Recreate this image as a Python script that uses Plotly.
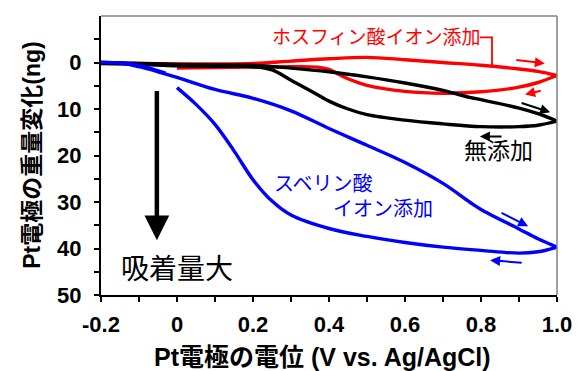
import plotly.graph_objects as go

# ---------------- data ----------------
# 無添加 (no additive): forward (anodic) and backward sweeps
black_fwd_x = [-0.2, -0.1, 0.0, 0.1, 0.2, 0.3, 0.4, 0.5, 0.6, 0.7, 0.77, 0.8, 0.9, 0.95, 1.0]
black_fwd_y = [0.0, 0.2, 0.4, 0.5, 0.6, 1.2, 2.0, 3.1, 4.4, 6.0, 7.5, 8.0, 9.8, 11.0, 12.6]
black_bwd_x = [1.0, 0.95, 0.9, 0.8, 0.7, 0.6, 0.5, 0.45, 0.4, 0.35, 0.3, 0.25, 0.2, 0.1, 0.0, -0.1, -0.2]
black_bwd_y = [12.6, 13.5, 13.8, 13.8, 13.2, 12.4, 11.2, 10.0, 8.3, 6.0, 3.8, 1.6, 0.9, 0.8, 0.7, 0.4, 0.2]

# ホスフィン酸イオン添加 (phosphinate)
red_fwd_x = [-0.2, -0.1, 0.0, 0.1, 0.2, 0.3, 0.4, 0.5, 0.6, 0.7, 0.8, 0.9, 0.95, 1.0]
red_fwd_y = [0.0, 0.2, 0.3, 0.3, 0.2, -0.3, -0.8, -1.1, -0.6, 0.0, 0.6, 1.4, 1.9, 2.8]
red_bwd_x = [1.0, 0.95, 0.9, 0.8, 0.7, 0.6, 0.5, 0.45, 0.42, 0.4, 0.37, 0.3, 0.2, 0.1, 0.0]
red_bwd_y = [2.8, 4.3, 5.3, 6.3, 6.6, 6.2, 4.9, 3.5, 2.3, 1.5, 1.0, 0.9, 1.0, 1.1, 1.2]

# スベリン酸イオン添加 (suberate)
blue_fwd_x = [-0.2, -0.15, -0.1, -0.05, 0.0, 0.1, 0.2, 0.3, 0.4, 0.5, 0.6, 0.7, 0.77, 0.8, 0.9, 0.95, 1.0]
blue_fwd_y = [0.0, 0.1, 0.9, 2.0, 3.2, 5.8, 7.7, 10.4, 14.2, 17.8, 21.5, 26.0, 30.0, 31.6, 35.8, 37.9, 39.7]
blue_bwd_x = [1.0, 0.95, 0.9, 0.8, 0.7, 0.6, 0.5, 0.4, 0.3, 0.25, 0.2, 0.15, 0.1, 0.05, 0.0, None, -0.03, -0.1, -0.15]
blue_bwd_y = [39.7, 40.7, 41.0, 40.4, 39.7, 38.7, 37.4, 35.7, 32.8, 29.8, 25.2, 19.0, 13.3, 9.0, 5.4, None, 2.3, 0.6, 0.1]

x_ticks = [-0.2, 0, 0.2, 0.4, 0.6, 0.8, 1.0]
x_tick_text = ["-0.2", "0", "0.2", "0.4", "0.6", "0.8", "1.0"]
y_ticks = [0, 10, 20, 30, 40, 50]
y_tick_text = ["0", "10", "20", "30", "40", "50"]

RED = "#ff0000"
BLACK = "#000000"
BLUE = "#0000ff"
FONT = "Liberation Sans, Arial, Noto Sans CJK JP, sans-serif"

fig = go.Figure()
for xs, ys, col in [
    (red_fwd_x + red_bwd_x, red_fwd_y + red_bwd_y, RED),
    (black_fwd_x + black_bwd_x, black_fwd_y + black_bwd_y, BLACK),
    (blue_fwd_x + blue_bwd_x, blue_fwd_y + blue_bwd_y, BLUE),
]:
    fig.add_trace(go.Scatter(x=xs, y=ys, mode="lines", line=dict(color=col, width=3.4),
                             line_shape="spline", connectgaps=False, hoverinfo="skip"))

# ---------------- annotations ----------------
def arrow(x0, y0, x1, y1, col, w=2, size=1.0):
    fig.add_annotation(x=x1, y=y1, ax=x0, ay=y0, xref="x", yref="y", axref="x", ayref="y",
                       text="", showarrow=True, arrowhead=2, arrowsize=size,
                       arrowwidth=w, arrowcolor=col)

arrow(0.889, -0.6, 0.968, 0.2, RED)
arrow(0.961, 6.0, 0.916, 6.9, RED)
arrow(0.903, 8.6, 0.982, 10.7, BLACK)
arrow(0.858, 15.9, 0.797, 15.9, BLACK)
arrow(0.850, 32.2, 0.924, 35.2, BLUE)
arrow(0.911, 43.1, 0.824, 42.5, BLUE)
arrow(-0.053, 5.8, -0.053, 38.2, BLACK, w=4.5, size=1.1)

def label(x, y, txt, col, size, anchor="center", weight="normal"):
    fig.add_annotation(x=x, y=y, xref="x", yref="y", text=txt, showarrow=False,
                       xanchor=anchor,
                       font=dict(family=FONT, size=size, color=col, weight=weight))

label(0.524, -5.4, "ホスフィン酸イオン添加", RED, 19)
label(0.845, 19.1, "無添加", BLACK, 23)
label(0.25, 26.2, "スベリン酸", BLUE, 20, anchor="left")
label(0.542, 31.5, "イオン添加", BLUE, 20)
label(0.0, 44.6, "吸着量大", BLACK, 28)

# axis titles
fig.add_annotation(x=-0.153, y=0.5, xref="paper", yref="paper", xanchor="center", yanchor="middle",
                   text="Pt電極の重量変化(ng)", textangle=-90, showarrow=False,
                   font=dict(family=FONT, size=23, color="black", weight="bold"))
fig.add_annotation(x=0.485, y=-0.222, xref="paper", yref="paper", xanchor="center", yanchor="middle",
                   text="Pt電極の電位 (V vs. Ag/AgCl)", showarrow=False,
                   font=dict(family=FONT, size=25, color="black", weight="bold"))

# bracket from red label to the red curve
fig.add_shape(type="path", xref="x", yref="y",
              path="M 0.797 -5.4 L 0.829 -5.4 L 0.829 0.6",
              line=dict(color=RED, width=1.8))

# gray top/right frame
fig.add_shape(type="line", xref="paper", yref="paper", x0=0, y0=1, x1=1, y1=1,
              line=dict(color="#808080", width=1.5))
fig.add_shape(type="line", xref="paper", yref="paper", x0=1, y0=0, x1=1, y1=1,
              line=dict(color="#808080", width=1.5))

fig.update_layout(
    width=577, height=371,
    margin=dict(l=101, r=20, t=16, b=76),
    paper_bgcolor="white", plot_bgcolor="white",
    showlegend=False,
    xaxis=dict(range=[-0.2, 1.0], tickvals=x_ticks, ticktext=x_tick_text, automargin=False,
               showgrid=False, zeroline=False, showline=True, linecolor="black", linewidth=2,
               ticks="outside", ticklen=5, tickwidth=1.5, tickcolor="black",
               minor=dict(tickvals=[-0.1, 0.1, 0.3, 0.5, 0.7, 0.9], ticks="outside",
                          ticklen=5, tickwidth=1.5, tickcolor="black", showgrid=False),
               tickfont=dict(family=FONT, size=22, color="black", weight="bold"),
               ticklabelstandoff=4),
    yaxis=dict(range=[50, -10], tickvals=y_ticks, ticktext=y_tick_text, automargin=False,
               showgrid=False, zeroline=False, showline=True, linecolor="black", linewidth=2,
               ticks="outside", ticklen=5, tickwidth=1.5, tickcolor="black",
               minor=dict(tickvals=[-5, 5, 15, 25, 35, 45], ticks="outside",
                          ticklen=5, tickwidth=1.5, tickcolor="black", showgrid=False),
               tickfont=dict(family=FONT, size=22, color="black", weight="bold"),
               ticklabelstandoff=8),
)

fig.write_html("out.html", config={"displayModeBar": False},
               post_script="document.body.style.margin='0';document.body.style.overflow='hidden';")
